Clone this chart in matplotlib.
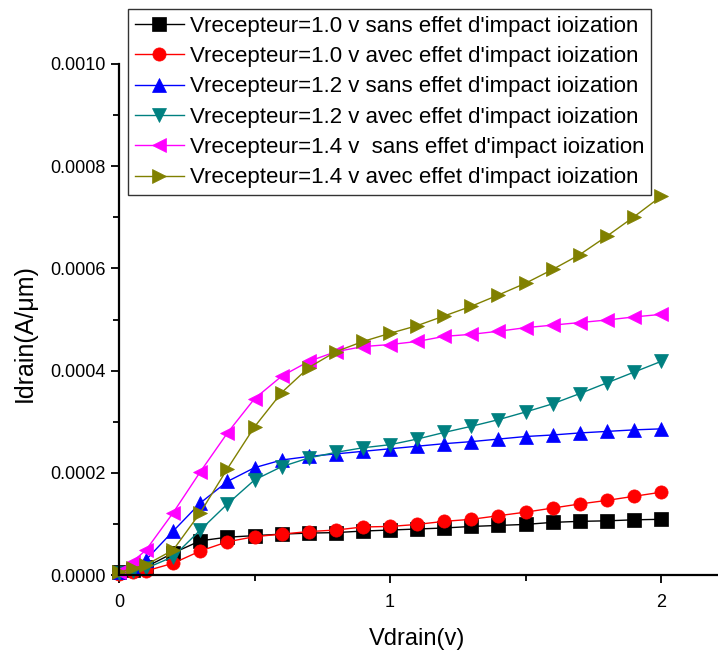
import matplotlib
matplotlib.use("Agg")
import matplotlib.pyplot as plt
from matplotlib.ticker import MultipleLocator, FormatStrFormatter

plt.rcParams['font.family'] = ['Liberation Sans', 'DejaVu Sans']

vdrain = [0, 0.05, 0.1, 0.2, 0.3, 0.4, 0.5, 0.6, 0.7, 0.8, 0.9, 1.0,
          1.1, 1.2, 1.3, 1.4, 1.5, 1.6, 1.7, 1.8, 1.9, 2.0]

i_10_sans = [0.000005, 0.000010, 0.000016, 0.000043, 0.000067, 0.000074, 0.000077,
             0.000080, 0.000082, 0.000083, 0.000086, 0.000088, 0.000090, 0.000092,
             0.000095, 0.000097, 0.000099, 0.000103, 0.000105, 0.000106, 0.000108, 0.000109]
i_10_avec = [0.000002, 0.000005, 0.000008, 0.000023, 0.000047, 0.000065, 0.000075,
             0.000080, 0.000085, 0.000088, 0.000094, 0.000095, 0.000099, 0.000105,
             0.000109, 0.000116, 0.000123, 0.000131, 0.000139, 0.000146, 0.000154, 0.000162]
i_12_sans = [0.000005, 0.000015, 0.000030, 0.000086, 0.000141, 0.000183, 0.000210,
             0.000225, 0.000232, 0.000237, 0.000242, 0.000247, 0.000252, 0.000257,
             0.000261, 0.000266, 0.000271, 0.000274, 0.000278, 0.000281, 0.000284, 0.000286]
i_12_avec = [0.000003, 0.000007, 0.000013, 0.000036, 0.000088, 0.000139, 0.000186,
             0.000212, 0.000229, 0.000240, 0.000249, 0.000255, 0.000266, 0.000279,
             0.000291, 0.000304, 0.000319, 0.000335, 0.000355, 0.000376, 0.000397, 0.000418]
i_14_sans = [0.000005, 0.000026, 0.000049, 0.000122, 0.000202, 0.000278, 0.000345,
             0.000389, 0.000418, 0.000437, 0.000447, 0.000451, 0.000457, 0.000467,
             0.000471, 0.000477, 0.000484, 0.000489, 0.000494, 0.000499, 0.000505, 0.000510]
i_14_avec = [0.000005, 0.000013, 0.000020, 0.000049, 0.000122, 0.000208, 0.000290,
             0.000357, 0.000406, 0.000437, 0.000457, 0.000473, 0.000488, 0.000507,
             0.000526, 0.000548, 0.000571, 0.000598, 0.000627, 0.000663, 0.000701, 0.000741]

labels = [
    "Vrecepteur=1.0 v sans effet d'impact ioization",
    "Vrecepteur=1.0 v avec effet d'impact ioization",
    "Vrecepteur=1.2 v sans effet d'impact ioization",
    "Vrecepteur=1.2 v avec effet d'impact ioization",
    "Vrecepteur=1.4 v  sans effet d'impact ioization",
    "Vrecepteur=1.4 v avec effet d'impact ioization",
]
series = [i_10_sans, i_10_avec, i_12_sans, i_12_avec, i_14_sans, i_14_avec]
colors = ['#000000', '#ff0000', '#0000ff', '#008080', '#ff00ff', '#808000']
markers = ['s', 'o', '^', 'v', '<', '>']

fig = plt.figure(figsize=(7.18, 6.53), dpi=100)
ax = fig.add_axes([119/718, 1 - 575/653, 1 - 119/718, (575 - 64)/653])

handles = []
for y, c, m, lab in zip(series, colors, markers, labels):
    h, = ax.plot(vdrain, y, color=c, marker=m, markersize=9.5, linewidth=1,
                 markeredgewidth=0.5, markeredgecolor=c, label=lab, clip_on=False)
    handles.append(h)

ax.set_xlim(0, 2.21)
ax.set_ylim(0, 0.0010)
ax.xaxis.set_major_locator(MultipleLocator(1))
ax.xaxis.set_minor_locator(MultipleLocator(0.5))
ax.yaxis.set_major_locator(MultipleLocator(0.0002))
ax.yaxis.set_minor_locator(MultipleLocator(0.0001))
ax.yaxis.set_major_formatter(FormatStrFormatter('%.4f'))
ax.xaxis.set_major_formatter(FormatStrFormatter('%d'))

for s in ['top', 'right']:
    ax.spines[s].set_visible(False)
for s in ['left', 'bottom']:
    ax.spines[s].set_linewidth(1.6)
ax.tick_params(which='major', direction='out', length=6, width=1.3, labelsize=13)
ax.tick_params(which='minor', direction='out', length=4, width=1.3)
ax.tick_params(axis='x', pad=8)

ax.set_xlabel('Vdrain(v)', fontsize=17)
ax.xaxis.set_label_coords((417 - 119) / 599, -(628 - 575) / 511)
ax.set_ylabel('Idrain(A/\u03bcm)', fontsize=18)
ax.yaxis.set_label_coords((37 - 119) / 599, (575 - 333) / 511)

leg = fig.legend(handles=handles, loc='upper left', bbox_to_anchor=(128/718, 1 - 9/653),
                 fontsize=16, frameon=True, fancybox=False, edgecolor='black',
                 borderpad=0.3, labelspacing=0.42, handlelength=2.2, handletextpad=0.3,
                 borderaxespad=0)
leg.get_frame().set_linewidth(1.0)

fig.savefig('out.png', dpi=100)
